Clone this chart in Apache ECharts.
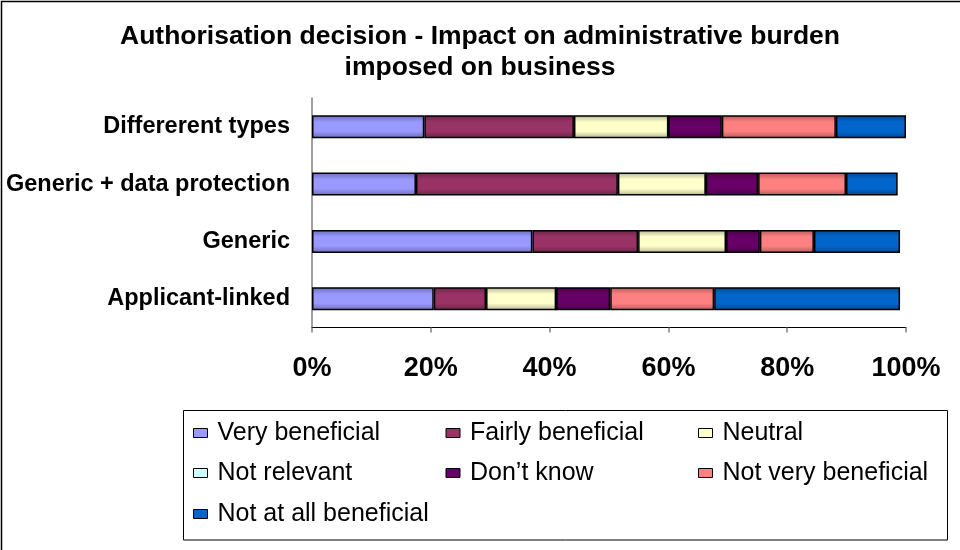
<!DOCTYPE html>
<html>
<head>
<meta charset="utf-8">
<title>Authorisation decision</title>
<script src="https://cdn.jsdelivr.net/npm/echarts@6/dist/echarts.min.js"></script>
<style>
  html, body { margin: 0; padding: 0; background: #fff; }
  #chart { width: 960px; height: 550px; }
</style>
</head>
<body>
<div id="chart"></div>
<script>
// categories, bottom to top (category axis starts at the bottom)
var categories = ['Applicant-linked', 'Generic', 'Generic + data protection', 'Differerent types'];
var seriesNames = ['Very beneficial', 'Fairly beneficial', 'Neutral', 'Not relevant', 'Don\u2019t know', 'Not very beneficial', 'Not at all beneficial'];
var veryBeneficial     = [20.5, 37.1, 17.5, 18.9];
var fairlyBeneficial   = [8.8, 17.8, 34.0, 25.2];
var neutral            = [11.8, 14.8, 14.8, 15.9];
var notRelevant        = [0, 0, 0, 0];
var dontKnow           = [9.1, 5.7, 8.8, 9.0];
var notVeryBeneficial  = [17.5, 9.1, 14.8, 19.2];
var notAtAllBeneficial = [31.3, 14.5, 8.7, 11.8];
var xTicks = [0, 20, 40, 60, 80, 100];

var colors = ['#9999FF', '#993366', '#FFFFCC', '#CCFFFF', '#660066', '#FF8080', '#0066CC'];
var seriesData = [veryBeneficial, fairlyBeneficial, neutral, notRelevant, dontKnow, notVeryBeneficial, notAtAllBeneficial];

var FONT = '"Liberation Sans", Arial, sans-serif';

// darken a hex colour a bit, for the shaded edges of the bars
function shade(hex, f) {
	var n = parseInt(hex.slice(1), 16);
	var r = Math.round(((n >> 16) & 255) * f);
	var g = Math.round(((n >> 8) & 255) * f);
	var b = Math.round((n & 255) * f);
	return 'rgb(' + r + ',' + g + ',' + b + ')';
}

var series = [];
for (var i = 0; i < seriesNames.length; i++) {
	series.push({
		name: seriesNames[i],
		type: 'bar',
		stack: 'total',
		barWidth: 23,
		data: seriesData[i],
		itemStyle: {
			color: new echarts.graphic.LinearGradient(0, 0, 0, 1, [
				{ offset: 0, color: shade(colors[i], 0.7) },
				{ offset: 0.3, color: colors[i] },
				{ offset: 0.7, color: colors[i] },
				{ offset: 1, color: shade(colors[i], 0.7) }
			]),
			borderColor: '#000',
			borderWidth: 1.5
		},
		emphasis: { disabled: true }
	});
}

// legend rows (three columns like the original)
var legendRows = [
	[seriesNames[0], seriesNames[1], seriesNames[2]],
	[seriesNames[3], seriesNames[4], seriesNames[5]],
	[seriesNames[6]]
];
var legendTops = [418, 458, 499];
var legends = [];
for (var r = 0; r < legendRows.length; r++) {
	legends.push({
		data: legendRows[r].map(function (n) {
			return { name: n, itemStyle: { color: colors[seriesNames.indexOf(n)] } };
		}),
		left: 193,
		top: legendTops[r],
		width: 762,
		orient: 'horizontal',
		padding: 0,
		itemGap: 0,
		itemWidth: 14,
		itemHeight: 9,
		icon: 'rect',
		selectedMode: false,
		itemStyle: { borderColor: '#000', borderWidth: 1 },
		textStyle: {
			fontFamily: FONT,
			fontSize: 25,
			color: '#000',
			width: 228,
			lineHeight: 30,
			padding: [0, 0, 0, 5]
		}
	});
}

var myChart = echarts.init(document.getElementById('chart'), null, { renderer: 'canvas' });
var option = {
	animation: false,
	backgroundColor: '#fff',
	title: {
		text: 'Authorisation decision - Impact on administrative burden\nimposed on business',
		left: 'center',
		top: 16,
		textStyle: {
			fontFamily: FONT,
			fontSize: 26.5,
			fontWeight: 'bold',
			color: '#000',
			lineHeight: 31
		}
	},
	legend: legends,
	grid: { left: 312, right: 54, top: 98, bottom: 222.5, containLabel: false },
	xAxis: {
		type: 'value',
		min: xTicks[0],
		max: xTicks[xTicks.length - 1],
		interval: 20,
		axisLine: { show: true, lineStyle: { color: '#000', width: 1 } },
		axisTick: { show: true, length: 5, lineStyle: { color: '#808080', width: 1.5 } },
		splitLine: { show: false },
		axisLabel: {
			formatter: '{value}%',
			fontFamily: FONT,
			fontSize: 27,
			fontWeight: 'bold',
			color: '#000',
			margin: 28
		}
	},
	yAxis: {
		type: 'category',
		data: categories,
		axisLine: { show: true, lineStyle: { color: '#808080', width: 1.5 } },
		axisTick: { show: false },
		axisLabel: {
			fontFamily: FONT,
			fontSize: 23.5,
			fontWeight: 'bold',
			color: '#000',
			margin: 22
		}
	},
	graphic: [
		{
			type: 'rect',
			shape: { x: 1.5, y: 1.5, width: 1000, height: 1000 },
			style: { fill: null, stroke: '#000', lineWidth: 1.5 },
			silent: true
		},
		{
			type: 'rect',
			shape: { x: 183.5, y: 410.5, width: 764, height: 129.5 },
			style: { fill: null, stroke: '#000', lineWidth: 1 },
			silent: true
		}
	],
	series: series
};
myChart.setOption(option);
</script>
</body>
</html>
